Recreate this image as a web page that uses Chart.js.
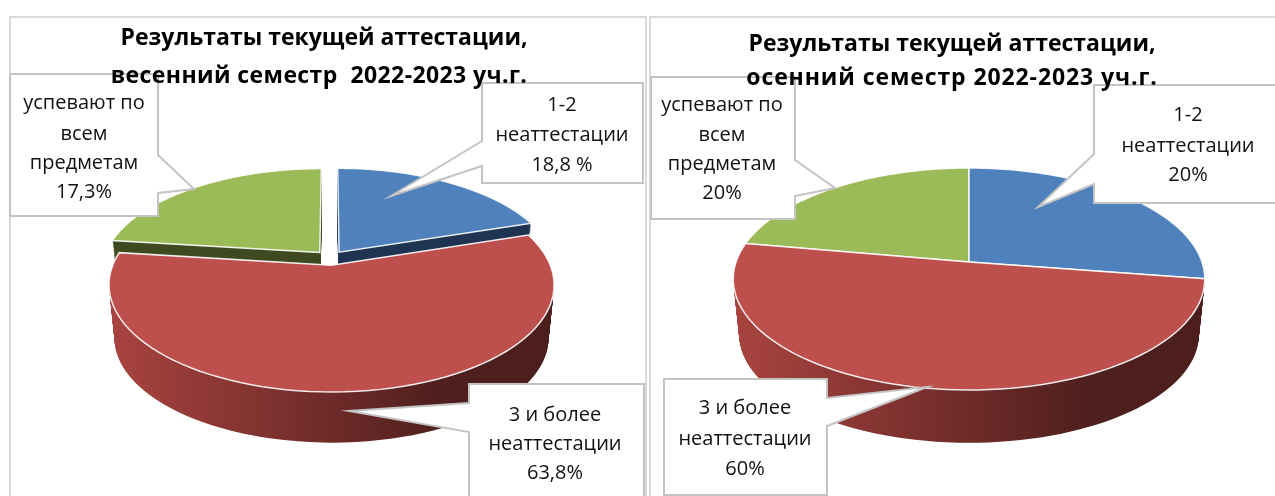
<!DOCTYPE html>
<html>
<head>
<meta charset="utf-8">
<script src="https://cdn.jsdelivr.net/npm/chart.js@4"></script>
<style>
  body { margin: 0; background: #fff; }
  #wrap { position: relative; width: 1275px; height: 496px; overflow: hidden; }
  canvas { position: absolute; top: 0; }
  #spring { left: 0; }
  #autumn { left: 648px; }
</style>
</head>
<body>
<div id="wrap">
  <canvas id="spring" width="648" height="496"></canvas>
  <canvas id="autumn" width="627" height="496"></canvas>
</div>
<script>
const categories = ['1-2 неаттестации', '3 и более неаттестации', 'успевают по всем предметам'];

// slice sizes as they are drawn in the picture (the printed labels say something else)
const springShares = [20, 57, 23];
const autumnShares = [27.4, 50.4, 22.2];

const springTitle = ['Результаты текущей аттестации,', 'весенний семестр  2022-2023 уч.г.'];
const autumnTitle = ['Результаты текущей аттестации,', 'осенний семестр 2022-2023 уч.г.'];

const springLabels = [['1-2', 'неаттестации', '18,8 %'], ['3 и более', 'неаттестации', '63,8%'], ['успевают по', 'всем', 'предметам', '17,3%']];
const autumnLabels = [['1-2', 'неаттестации', '20%'], ['3 и более', 'неаттестации', '60%'], ['успевают по', 'всем', 'предметам', '20%']];

const topColors = ['#4f81bd', '#bd4f4c', '#9bbb59'];
const wallColors = ['#1f3552', null, '#3f4a21'];
const borderGray = '#c4c4c4';

// circle on the table -> screen, with a bit of perspective
function project(g, s, t, z) {
  const k = 1 - 0.025 * z;
  const den = 1 + g.b * t;
  return [g.cx + g.c * k * s / den, g.cy + g.a * k * t / den + g.depth * z];
}

function slicePath(ctx, g, arc, z) {
  const mid = (arc.startAngle + arc.endAngle) / 2;
  const ox = Math.cos(mid) * g.explode;
  const oy = Math.sin(mid) * g.explode;
  ctx.beginPath();
  let p = project(g, ox, oy, z);
  ctx.moveTo(p[0], p[1]);
  for (let i = 0; i <= 80; i++) {
    const a = arc.startAngle + (arc.endAngle - arc.startAngle) * i / 80;
    p = project(g, ox + Math.cos(a), oy + Math.sin(a), z);
    ctx.lineTo(p[0], p[1]);
  }
  ctx.closePath();
}

function drawCallout(ctx, c, lines) {
  ctx.beginPath();
  c.shape.forEach((p, i) => i ? ctx.lineTo(p[0], p[1]) : ctx.moveTo(p[0], p[1]));
  if (c.closed) ctx.closePath();
  ctx.fillStyle = '#fff';
  ctx.fill();
  ctx.strokeStyle = borderGray;
  ctx.lineWidth = 2;
  ctx.stroke();
  ctx.fillStyle = '#111';
  ctx.font = '20px "Open Sans"';
  ctx.textAlign = 'center';
  ctx.textBaseline = 'middle';
  lines.forEach((line, i) => ctx.fillText(line, c.textX, c.textY[i]));
}

const pie3d = {
  id: 'pie3d',
  beforeDatasetDraw() {
    return false;
  },
  afterDatasetsDraw(chart, args, opts) {
    const ctx = chart.ctx;
    const g = opts.geometry;
    const arcs = chart.getDatasetMeta(0).data;

    const grad = ctx.createLinearGradient(g.cx - g.c, 0, g.cx + g.c, 0);
    grad.addColorStop(0, '#a8433f');
    grad.addColorStop(0.5, '#6e2b29');
    grad.addColorStop(0.76, '#4e1f1d');
    grad.addColorStop(1, '#4c1e1c');

    // side walls first, red one last because it is in front
    [2, 0, 1].forEach(i => {
      ctx.fillStyle = wallColors[i] || grad;
      for (let z = 1; z > 0; z -= 0.02) {
        slicePath(ctx, g, arcs[i], z);
        ctx.fill();
      }
    });
    [2, 0, 1].forEach(i => {
      slicePath(ctx, g, arcs[i], 0);
      ctx.fillStyle = topColors[i];
      ctx.fill();
      ctx.strokeStyle = 'rgba(255,255,255,0.9)';
      ctx.lineWidth = 1.5;
      ctx.stroke();
    });

    opts.callouts.forEach((c, i) => drawCallout(ctx, c, opts.labels[i]));

    ctx.fillStyle = '#000';
    ctx.font = 'bold 23px "Open Sans"';
    ctx.textAlign = 'center';
    ctx.textBaseline = 'middle';
    opts.title.forEach((line, i) => {
      ctx.letterSpacing = opts.titleSpacing[i];
      ctx.fillText(line, opts.titleX[i], opts.titleY[i]);
    });
    ctx.letterSpacing = '0px';
  }
};

function makeChart(id, shares, pluginOpts) {
  return new Chart(document.getElementById(id), {
    type: 'pie',
    data: {
      labels: categories,
      datasets: [{ data: shares, backgroundColor: topColors }]
    },
    options: {
      responsive: false,
      animation: false,
      plugins: {
        legend: { display: false },
        tooltip: { enabled: false },
        pie3d: pluginOpts
      }
    },
    plugins: [{
      id: 'frame',
      beforeDraw(chart) {
        const ctx = chart.ctx;
        ctx.strokeStyle = '#d9d9d9';
        ctx.lineWidth = 2;
        ctx.beginPath();
        ctx.moveTo(pluginOpts.frame[0], 496);
        ctx.lineTo(pluginOpts.frame[0], 17);
        ctx.lineTo(pluginOpts.frame[1], 17);
        if (pluginOpts.frame[2]) ctx.lineTo(pluginOpts.frame[1], 496);
        ctx.stroke();
      }
    }, pie3d]
  });
}

makeChart('spring', springShares, {
  geometry: { cx: 330, cy: 258, a: 100.9, b: -0.18, c: 216, depth: 54, explode: 0.072 },
  frame: [10, 646, true],
  title: springTitle,
  titleX: [324, 319],
  titleY: [38, 76],
  titleSpacing: ['0px', '0.4px'],
  labels: springLabels,
  callouts: [
    { shape: [[482, 83], [643, 83], [643, 183], [482, 183], [482, 166], [391, 196], [482, 141]], closed: true, textX: 562, textY: [105, 135, 165] },
    { shape: [[469, 497], [469, 432], [349, 411], [469, 403], [469, 384], [644, 384], [644, 497]], closed: false, textX: 555, textY: [415, 444, 473] },
    { shape: [[10, 74], [158, 74], [158, 155], [194, 189], [158, 193], [158, 216], [10, 216]], closed: true, textX: 84, textY: [103, 134, 163, 192] }
  ]
});

// right chart: canvas starts at x=648, so everything is shifted by that
makeChart('autumn', autumnShares, {
  geometry: { cx: 321, cy: 262, a: 108.4, b: -0.153, c: 233, depth: 56, explode: 0 },
  frame: [2, 640, false],
  title: autumnTitle,
  titleX: [304, 304],
  titleY: [44, 78],
  titleSpacing: ['0px', '0.9px'],
  labels: autumnLabels,
  callouts: [
    { shape: [[640, 85], [446, 85], [446, 154], [390, 207], [446, 184], [446, 203], [640, 203]], closed: false, textX: 540, textY: [115, 146, 175] },
    { shape: [[16, 379], [179, 379], [179, 398], [279, 387], [179, 426], [179, 495], [16, 495]], closed: true, textX: 97, textY: [408, 439, 469] },
    { shape: [[3, 77], [147, 77], [147, 160], [187, 188], [147, 196], [147, 219], [3, 219]], closed: true, textX: 74, textY: [105, 135, 164, 193] }
  ]
});
</script>
</body>
</html>
